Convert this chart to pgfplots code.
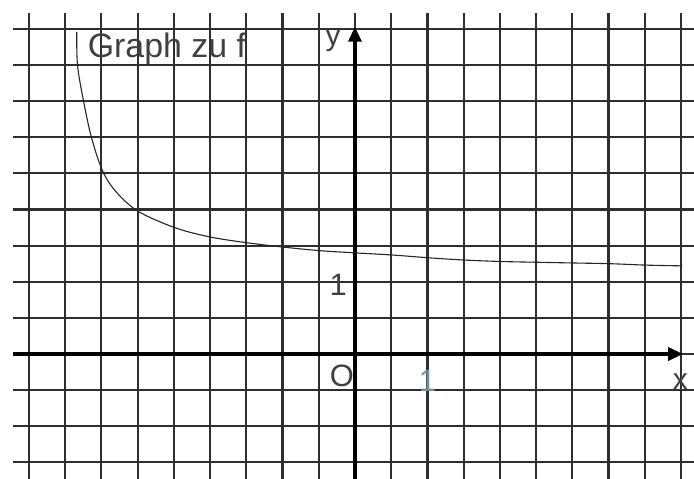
\documentclass[border=0pt]{standalone}
\usepackage{pgfplots}
\pgfplotsset{compat=1.18}
\usepackage{fontspec}
\setmainfont{Liberation Sans}
\usetikzlibrary{arrows.meta}
\definecolor{tealgray}{RGB}{105,145,155}
\begin{document}
\begin{tikzpicture}
\begin{axis}[
  x=72.4bp, y=72.2bp,
  xmin=-4.72, xmax=4.68, ymin=-1.73, ymax=4.72,
  axis line style={draw=none},
  tick style={draw=none},
  xtick={-4.5,-4,...,4.5}, ytick={-1.5,-1,...,4.5},
  xticklabels={}, yticklabels={},
  grid=major,
  major grid style={black!82, line width=2.2bp},
  clip=false,
]
% axes
\addplot[black, line width=3.4bp, -{Triangle[length=15bp,width=13bp]}] coordinates {(-4.72,0) (4.53,0)};
\addplot[black, line width=3.4bp, -{Triangle[length=15bp,width=13bp]}] coordinates {(0,-1.73) (0,4.53)};
% curve
\addplot[black!85, line width=1.1bp, smooth, tension=0.55] coordinates {
(-3.84,4.46) (-3.83,4.00) (-3.75,3.52) (-3.64,3.01) (-3.49,2.55)
(-3.31,2.26) (-3.00,1.98) (-2.49,1.75) (-2.00,1.62) (-1.49,1.54)
(-0.99,1.48) (-0.48,1.43) (0,1.40) (0.52,1.37) (1.04,1.33)
(1.52,1.30) (2.03,1.28) (2.51,1.27) (3.01,1.26) (3.52,1.25)
(4.03,1.23) (4.52,1.22)};
% labels
\node[anchor=base west, text=black!75, font=\fontsize{34}{34}\selectfont, inner sep=0pt] at (axis cs:-3.69,4.10) {Graph zu f};
\node[text=black!75, font=\fontsize{30}{30}\selectfont, inner sep=0pt] at (axis cs:-0.30,4.33) {y};
\node[text=black!75, font=\fontsize{30}{30}\selectfont, inner sep=0pt] at (axis cs:4.49,-0.38) {x};
\node[text=black!75, font=\fontsize{31}{31}\selectfont, inner sep=0pt] at (axis cs:-0.18,-0.30) {O};
\node[text=black!75, font=\fontsize{31}{31}\selectfont, inner sep=0pt] at (axis cs:-0.23,0.96) {1};
\node[text=tealgray, font=\fontsize{31}{31}\selectfont, inner sep=0pt] at (axis cs:1.0,-0.37) {1};
\end{axis}
\pgfresetboundingbox
\path[use as bounding box] ([xshift=-13bp]current axis.south west) rectangle ([yshift=13bp]current axis.north east);
\end{tikzpicture}
\end{document}
